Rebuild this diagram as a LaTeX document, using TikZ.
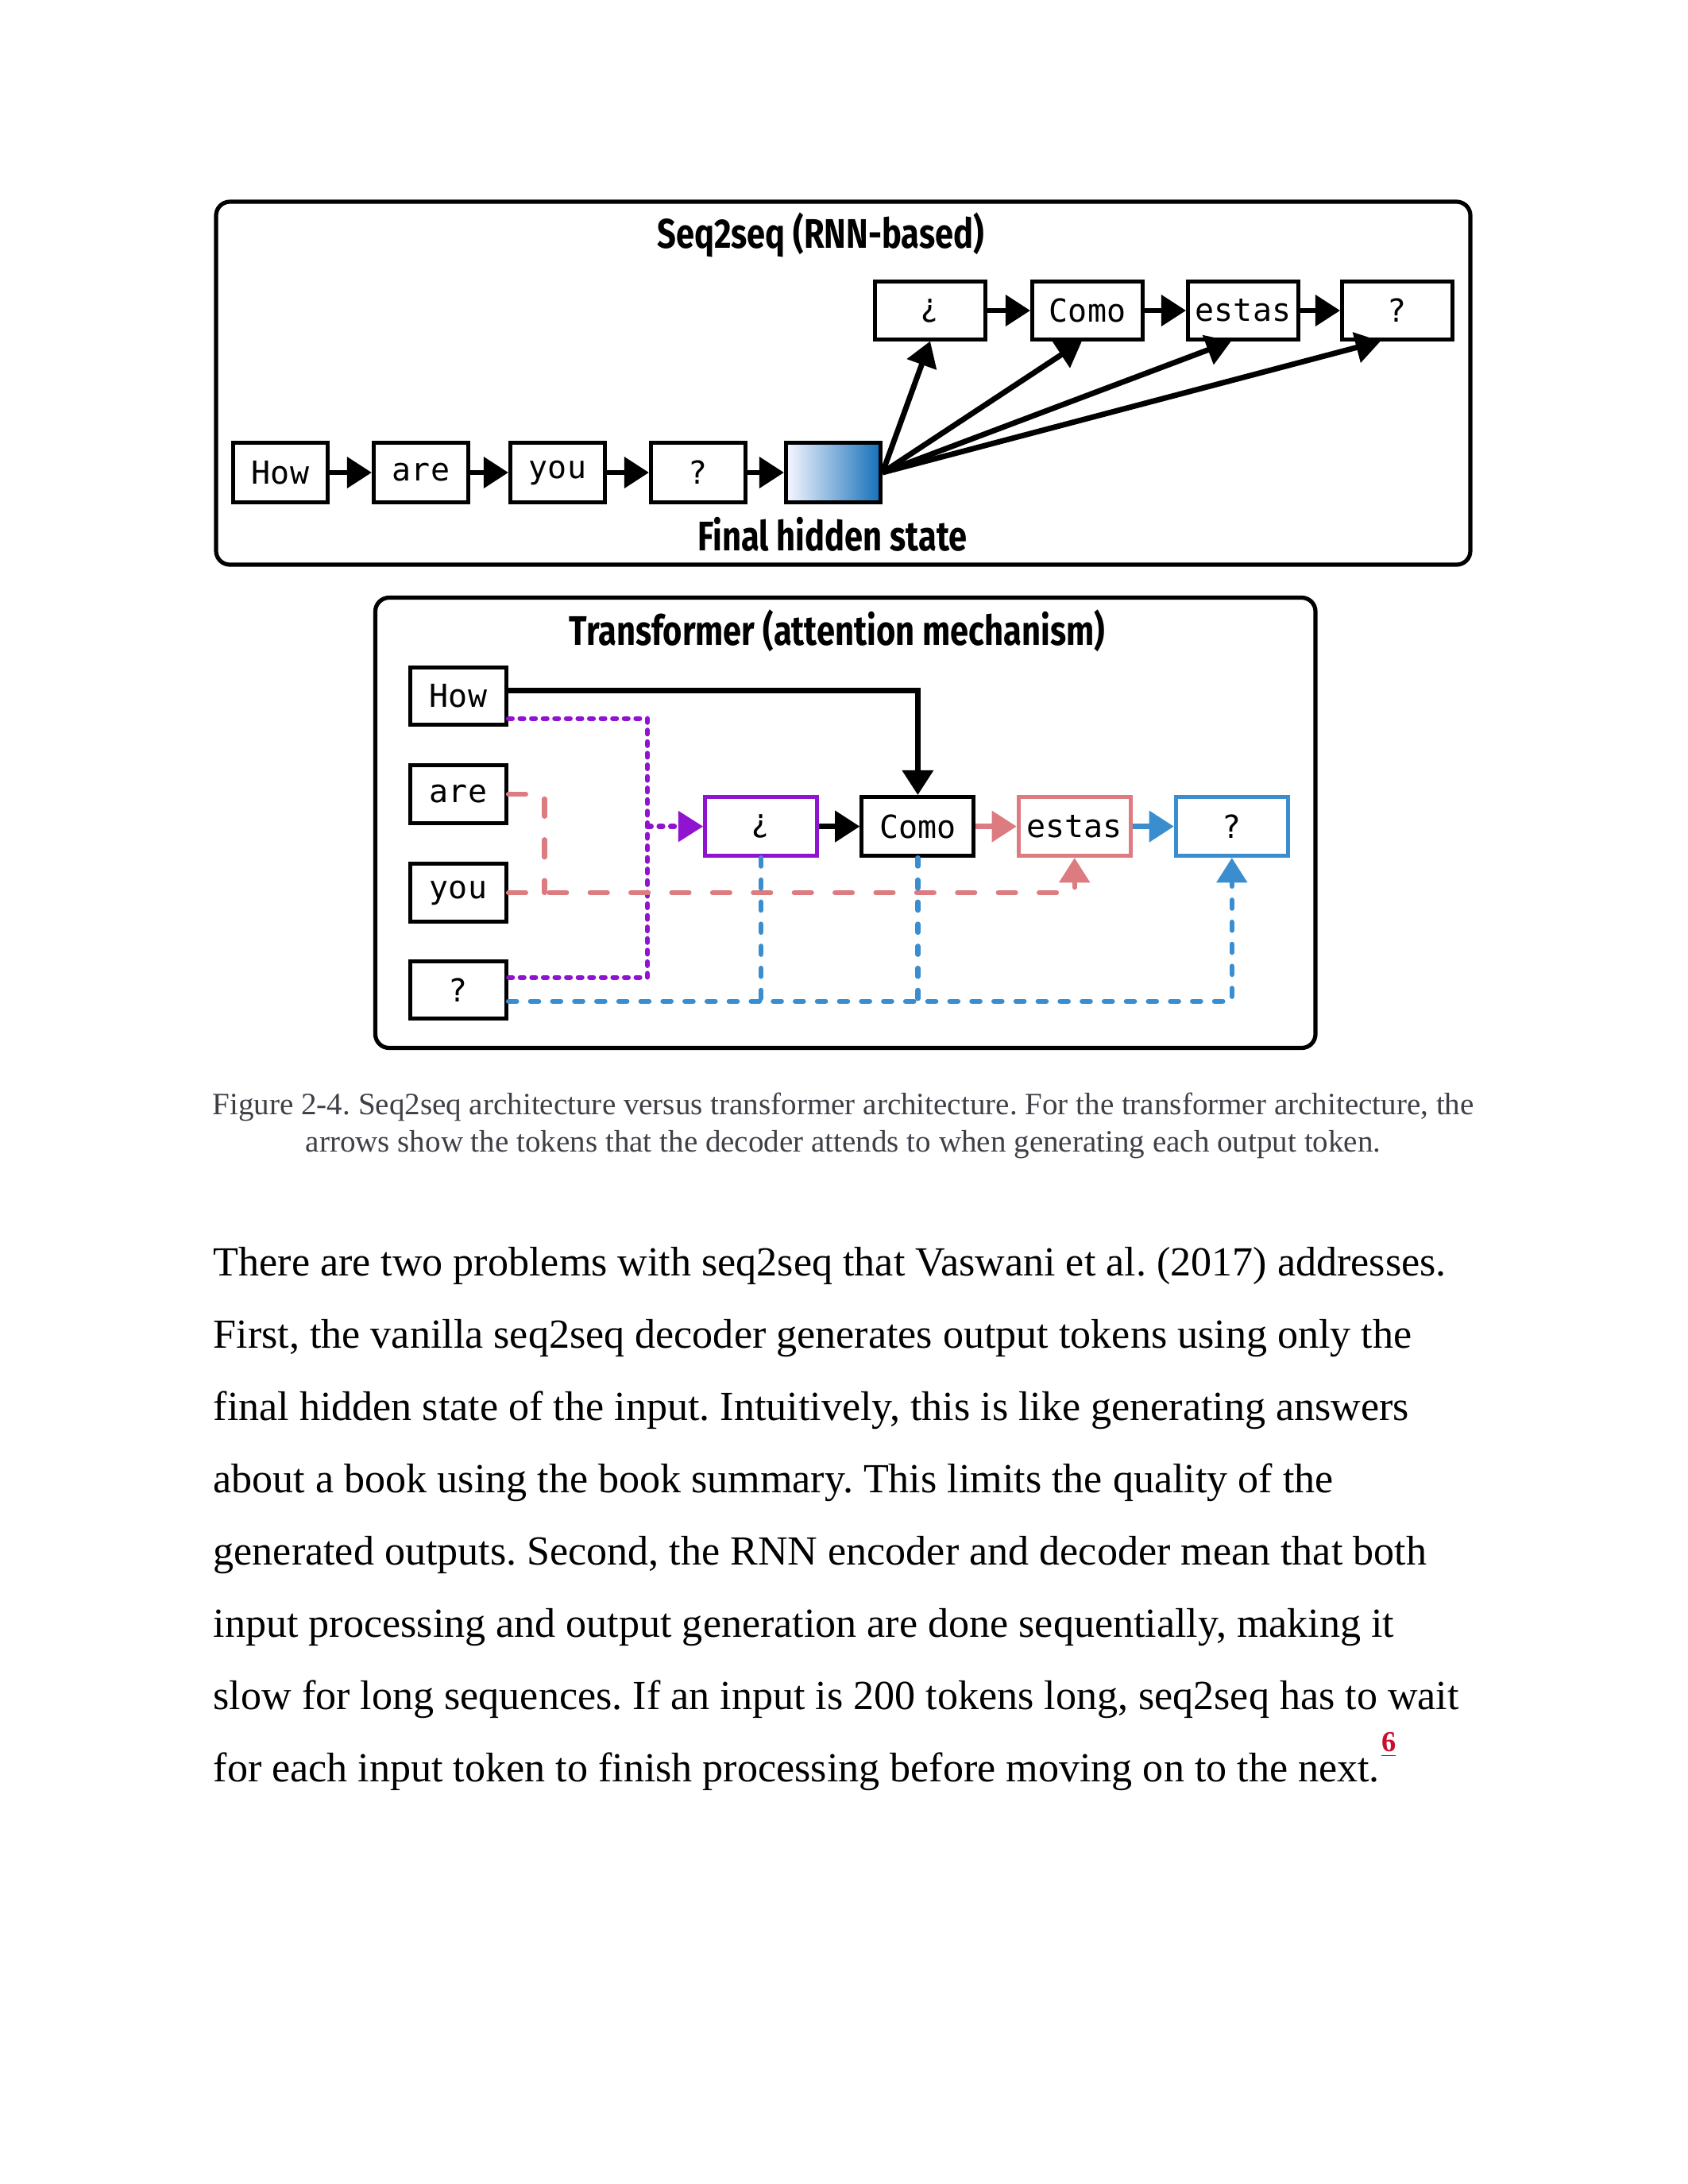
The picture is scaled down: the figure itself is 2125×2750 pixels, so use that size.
\documentclass[tikz,border=0pt]{standalone}
\usepackage{fontspec}
\setmainfont{Liberation Serif}
\newfontfamily\titlefont{Fira Sans}[FakeStretch=0.8]
\newfontfamily\tokfont{DejaVu Sans Mono}
\usetikzlibrary{arrows.meta,calc}
\definecolor{purp}{HTML}{9013D0}
\definecolor{pinkc}{HTML}{DC7B80}
\definecolor{bluec}{HTML}{3A8ED0}
\definecolor{hidblue}{HTML}{1470BA}
\definecolor{capgray}{HTML}{3F3F47}
\definecolor{fnred}{HTML}{C8102E}
\frenchspacing
\tikzset{
  frame/.style={draw, line width=1.5pt, rounded corners=5pt},
  tok/.style={draw, line width=1.4pt, font=\tokfont\fontsize{11.5}{13}\selectfont, inner sep=0pt, fill=white},
  topout/.style={tok, minimum width=40pt, minimum height=20.8pt},
  topin/.style={tok, minimum width=34.3pt, minimum height=21.4pt},
  colin/.style={tok, minimum width=34.9pt, minimum height=20.8pt},
  botout/.style={tok, minimum width=40.6pt, minimum height=21.4pt},
  ttl/.style={font=\titlefont\bfseries\fontsize{15}{18}\selectfont, inner sep=0pt},
  tip/.style={-{Triangle[length=9pt,width=11pt]}},
  blk/.style={line width=2pt, tip},
  purpdot/.style={purp, line width=1.8pt, line cap=round, dash pattern=on 1.4pt off 2.8pt},
  pinkdash/.style={pinkc, line width=1.8pt, line cap=round, dash pattern=on 6.3pt off 8.5pt},
  bluedash/.style={bluec, line width=1.8pt, line cap=round, dash pattern=on 3pt off 5pt},
  bodyline/.style={anchor=base west, inner sep=0pt, font=\fontsize{15}{18}\selectfont},
  capline/.style={anchor=base, inner sep=0pt, text=capgray, font=\fontsize{11.25}{13.5}\selectfont}
}
\begin{document}
\begin{tikzpicture}[x=0.288pt,y=-0.288pt]
\fill[white] (0,0) rectangle (2125,2750);
\path[use as bounding box] (0,0) rectangle (2125,2750);

% ---------- Seq2seq frame ----------
\draw[frame] (272,254) rectangle (1851,711);
\node[ttl] (t1) at (1033,296) {Seq2seq (RNN-based)};

\node[topin] (ihow) at (353,595) {How};
\node[topin] (iare) at (530,595) {are};
\node[topin] (iyou) at (702,595) {you};
\node[topin] (iq) at (879,595) {?};
\node[topin, left color=blue!3, right color=hidblue] (hid) at (1049,595) {};
\node[ttl] (fhs) at (1048,673) {Final hidden state};

\node[topout] (oinv) at (1171,391) {¿};
\node[topout] (ocomo) at (1369,391) {Como};
\node[topout] (oestas) at (1565,391) {estas};
\node[topout] (oq) at (1759,391) {?};

\draw[blk] (ihow) -- (iare);
\draw[blk] (iare) -- (iyou);
\draw[blk] (iyou) -- (iq);
\draw[blk] (iq) -- (hid);
\draw[blk] (oinv) -- (ocomo);
\draw[blk] (ocomo) -- (oestas);
\draw[blk] (oestas) -- (oq);

\draw[blk] (hid.east) -- (oinv.south);
\draw[blk] (hid.east) -- ($(ocomo.south)+(-7,0)$);
\draw[blk] (hid.east) -- ($(oestas.south)+(-15,0)$);
\draw[blk] (hid.east) -- ($(oq.south)+(-21,0)$);

% ---------- Transformer frame ----------
\draw[frame] (472.5,752.5) rectangle (1656,1319.5);
\node[ttl] (t2) at (1054,794) {Transformer (attention mechanism)};

\node[colin] (bhow) at (577,876.7) {How};
\node[colin] (bare) at (577,1000) {are};
\node[colin] (byou) at (577,1124) {you};
\node[colin] (bq) at (577,1246.7) {?};

\node[botout, draw=purp] (binv) at (958,1040.6) {¿};
\node[botout] (bcomo) at (1155.4,1040.6) {Como};
\node[botout, draw=pinkc] (bestas) at (1352.7,1040.6) {estas};
\node[botout, draw=bluec] (bq2) at (1550.8,1040.6) {?};

\coordinate (pv) at (815,0);
\coordinate (pk) at (685.5,0);
\coordinate (pb) at ($(bq.east)+(0,-16)$);
\coordinate (by) at ($(bq.east)+(0,14)$);

% black from How to Como
\draw[blk] ($(bhow.east)+(0,-7)$) -| (bcomo.north);
% purple dotted
\draw[purpdot] ($(bhow.east)+(0,28)$) -| (pv |- pb) -- (pb);
\draw[purpdot] (pv |- binv.west) -- ($(binv.west)+(-20,0)$);
\draw[purp, line width=1.5pt, -{Triangle[length=9pt,width=11pt]}] ($(binv.west)+(-22,0)$) -- (binv.west);
% pink dashed
\draw[pinkdash] (bare.east) -- (pk |- bare.east) -- (pk |- byou.east);
\draw[pinkdash] (byou.east) -| ($(bestas.south)+(0,30)$);
\draw[pinkc, line width=1.5pt, -{Triangle[length=9pt,width=11pt]}] ($(bestas.south)+(0,12)$) -- (bestas.south);
% blue dashed
\draw[bluedash] (by) -| ($(bq2.south)+(0,30)$);
\draw[bluedash] (binv.south) -- (binv.south |- by);
\draw[bluedash] (bcomo.south) -- (bcomo.south |- by);
\draw[bluec, line width=1.5pt, -{Triangle[length=9pt,width=11pt]}] ($(bq2.south)+(0,12)$) -- (bq2.south);

% horizontal arrows
\draw[blk] (binv) -- (bcomo);
\draw[blk, pinkc] (bcomo) -- (bestas);
\draw[blk, bluec] (bestas) -- (bq2);

% ---------- caption ----------
\node[capline] (cap1) at (1061.6,1403) {Figure 2-4. Seq2seq architecture versus transformer architecture. For the transformer architecture, the};
\node[capline] (cap2) at (1061.6,1450) {arrows show the tokens that the decoder attends to when generating each output token.};

% ---------- body ----------
\node[bodyline] (l1) at (268,1606.7) {There are two problems with seq2seq that Vaswani et al. (2017) addresses.};
\node[bodyline] (l2) at (268,1697.6) {First, the vanilla seq2seq decoder generates output tokens using only the};
\node[bodyline] (l3) at (268,1788.5) {final hidden state of the input. Intuitively, this is like generating answers};
\node[bodyline] (l4) at (268,1879.4) {about a book using the book summary. This limits the quality of the};
\node[bodyline] (l5) at (268,1970.3) {generated outputs. Second, the RNN encoder and decoder mean that both};
\node[bodyline] (l6) at (268,2061.2) {input processing and output generation are done sequentially, making it};
\node[bodyline] (l7) at (268,2152.1) {slow for long sequences. If an input is 200 tokens long, seq2seq has to wait};
\node[bodyline] (l8) at (268,2243) {for each input token to finish processing before moving on to the next.};
\node[anchor=base west, inner sep=0pt, text=fnred, font=\fontsize{10.5}{12}\selectfont\bfseries] (fn) at ($(l8.base east)+(1,-38)$) {\underline{6}};
\end{tikzpicture}
\end{document}
